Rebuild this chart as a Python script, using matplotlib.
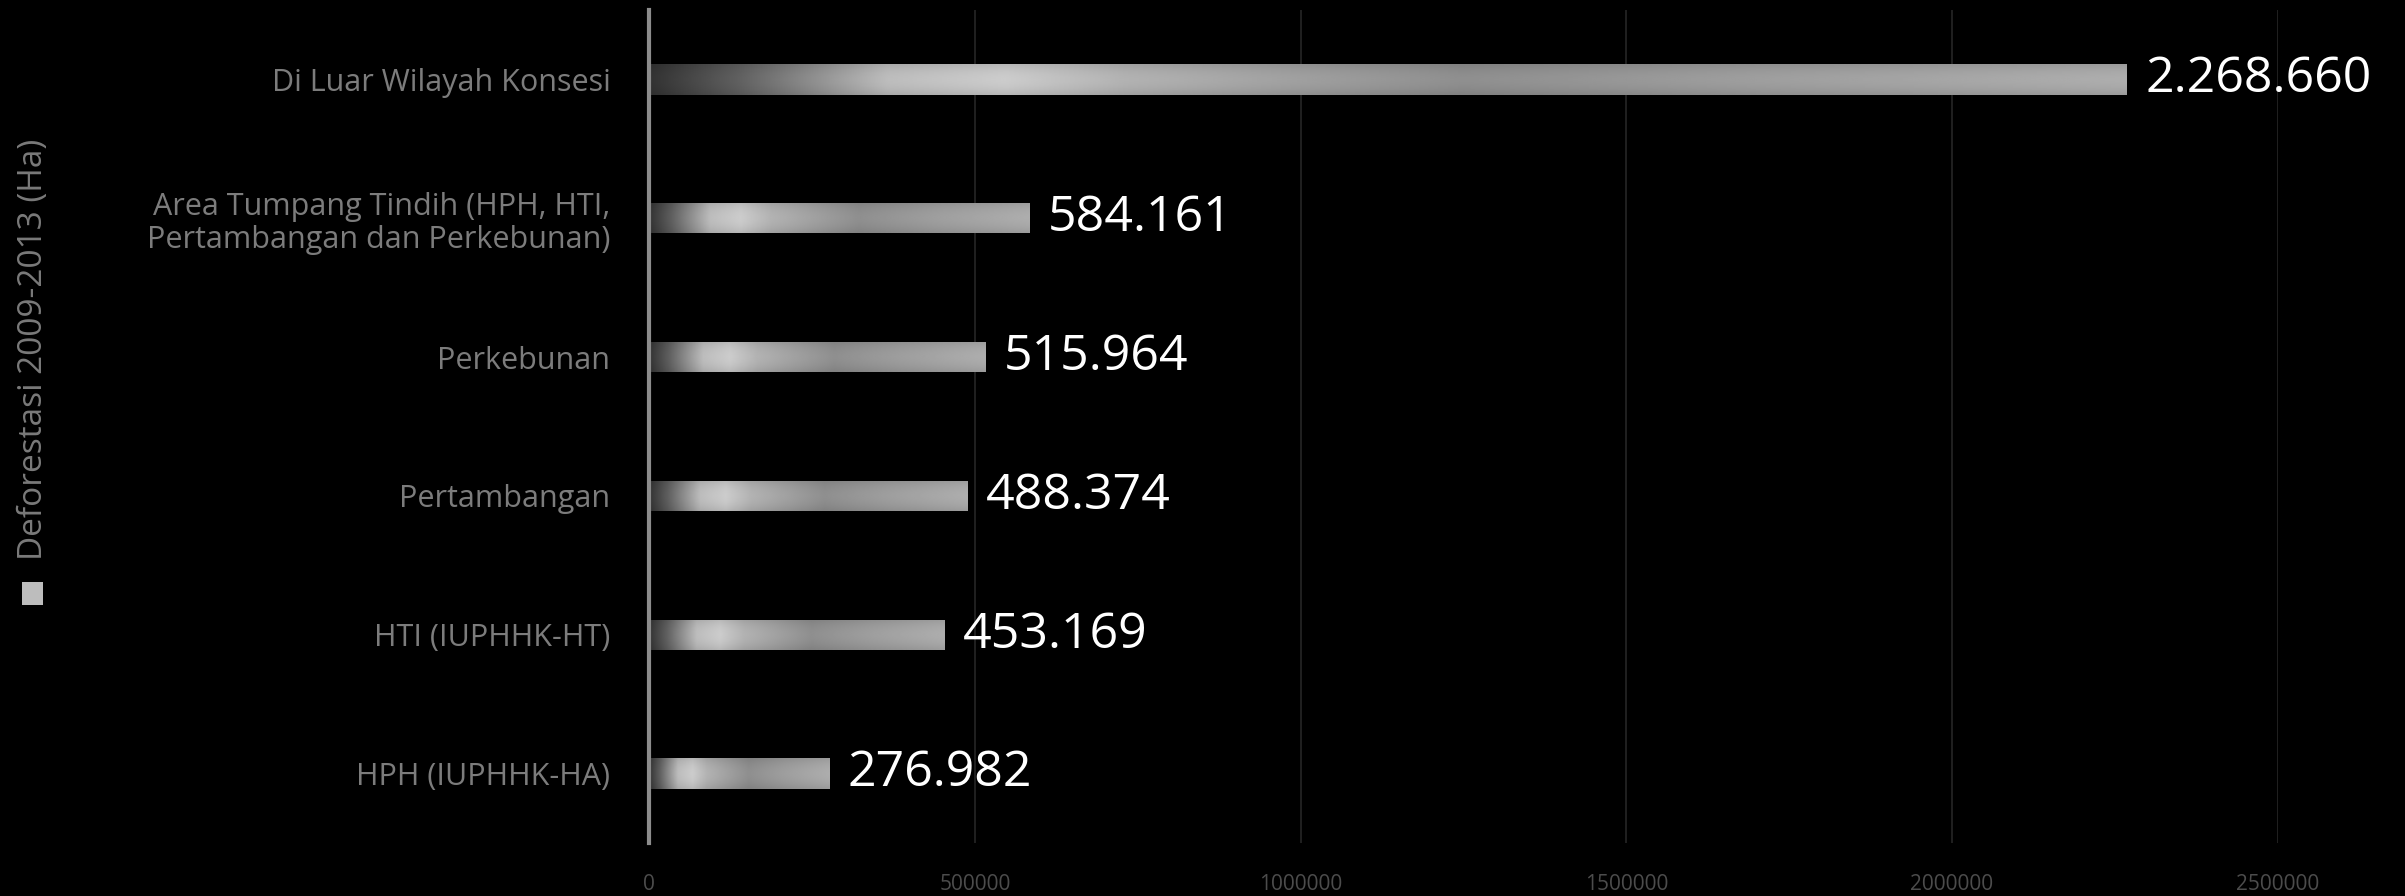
import numpy as np
import matplotlib.pyplot as plt
from matplotlib.patches import Rectangle

kategori = [
    "Di Luar Wilayah Konsesi",
    "Area Tumpang Tindih (HPH, HTI,\nPertambangan dan Perkebunan)",
    "Perkebunan",
    "Pertambangan",
    "HTI (IUPHHK-HT)",
    "HPH (IUPHHK-HA)",
]
deforestasi = [2268660, 584161, 515964, 488374, 453169, 276982]
xticks = [0, 500000, 1000000, 1500000, 2000000, 2500000]
seri = "Deforestasi 2009-2013 (Ha)"

plt.rcParams["font.family"] = ["Open Sans", "DejaVu Sans"]

fig = plt.figure(figsize=(24.05, 8.96), dpi=100, facecolor="black")
ax = fig.add_axes([0.270, 0.059, 0.677, 0.930], facecolor="black")

# shading along each bar: dark start, bright band, grey body
prof_x = [0.0, 0.06, 0.16, 0.24, 0.32, 0.45, 0.55, 0.75, 1.0]
prof_v = [0.20, 0.38, 0.74, 0.80, 0.70, 0.62, 0.56, 0.62, 0.68]
xs = np.linspace(0, 1, 300)
shade_x = np.interp(xs, prof_x, prof_v)
ys = np.linspace(-1, 1, 30)
shade_y = 1.0 - 0.10 * ys ** 2
shade = np.outer(shade_y, shade_x)

tinggi = 0.22
ypos = np.arange(len(kategori))
bars = ax.barh(ypos, deforestasi, height=tinggi, color="none", zorder=3)
for bar, val in zip(bars, deforestasi):
    x0, y0 = bar.get_x(), bar.get_y()
    w, h = bar.get_width(), bar.get_height()
    im = ax.imshow(shade, cmap="gray", vmin=0, vmax=1, aspect="auto",
                   extent=[x0, x0 + w, y0 + h, y0], interpolation="bilinear",
                   zorder=3)
    im.set_clip_path(bar)
    ax.text(x0 + w + 28000, y0 + h / 2, f"{val:,}".replace(",", "."),
            color="white", fontsize=36, va="center", ha="left", zorder=4)

ax.set_xlim(0, 2500000)
ax.set_ylim(5.5, -0.5)
ax.set_xticks(xticks)
ax.set_xticklabels([str(t) for t in xticks], color="#4c4c4c", fontsize=15)
ax.set_yticks(ypos)
ax.set_yticklabels(kategori, color="#7c7c7c", fontsize=22, linespacing=1.15)
ax.tick_params(axis="x", length=0, pad=22)
ax.tick_params(axis="y", length=0, pad=28)
for lbl in ax.get_yticklabels():
    lbl.set_multialignment("right")

ax.grid(axis="x", color="#262626", linewidth=1.2, zorder=0)
ax.set_axisbelow(True)
for side in ["top", "right", "bottom"]:
    ax.spines[side].set_visible(False)
ax.spines["left"].set_color("#8c8c8c")
ax.spines["left"].set_linewidth(3)
ax.spines["left"].set_zorder(5)

# rotated legend on the far left
fig.patches.append(Rectangle((0.0090, 0.325), 0.0090, 0.026, transform=fig.transFigure,
                             facecolor="#bdbdbd", edgecolor="none"))
fig.text(0.0140, 0.375, seri, rotation=90, color="#7a7a7a", fontsize=24,
         ha="center", va="bottom")

fig.savefig("out.png", dpi=100, facecolor="black")
